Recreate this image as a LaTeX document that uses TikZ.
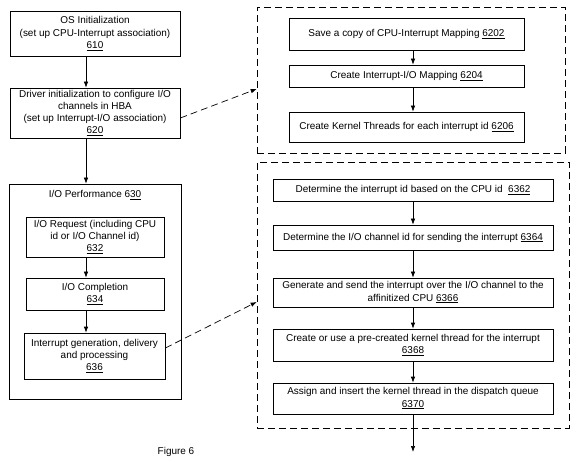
\documentclass[tikz,border=0pt]{standalone}
\usepackage{fontspec}
\setmainfont{Liberation Sans}
\usetikzlibrary{arrows.meta}
\begin{document}
\begin{tikzpicture}[x=1bp,y=-1bp,
  box/.style={draw, line width=0.7pt, align=center, inner sep=1pt, font=\fontsize{10}{12.3}\selectfont},
  dbox/.style={draw, line width=0.7pt, dash pattern=on 7bp off 4bp},
  arr/.style={-{Latex[length=6bp,width=4.5bp]}, line width=0.7pt},
  darr/.style={arr, dash pattern=on 7bp off 4bp},
  lbl/.style={font=\fontsize{10}{12.3}\selectfont}]
\useasboundingbox (0,0) rectangle (576,462);
% helper x positions
\coordinate (ax) at (86,0);
\coordinate (bx) at (413,0);
% left column
\node[box, minimum width=170bp, minimum height=45bp] (n610) at (95,33.5)
  {OS Initialization\\(set up CPU-Interrupt association)\\\underline{610}};
\node[box, minimum width=170bp, minimum height=50bp] (n620) at (95,113)
  {Driver initialization to configure I/O\\channels in HBA\\(set up Interrupt-I/O association)\\\underline{620}};
\node[box, minimum width=172bp, minimum height=215bp] (n630) at (95,291.5) {};
\node[lbl] (t630) at (95,195) {I/O Performance 6\underline{30}};
\node[box, minimum width=138bp, minimum height=40bp] (n632) at (95,237)
  {I/O Request (including CPU\\id or I/O Channel id)\\\underline{632}};
\node[box, minimum width=138bp, minimum height=32bp] (n634) at (95,294)
  {I/O Completion\\\underline{634}};
\node[box, minimum width=141bp, minimum height=46bp] (n636) at (94.5,356)
  {Interrupt generation, delivery\\and processing\\\underline{636}};
% right top group
\node[dbox, minimum width=308bp, minimum height=146bp] (g1) at (411,80) {};
\node[box, minimum width=235bp, minimum height=32bp] (n6202) at (406.5,34)
  {Save a copy of CPU-Interrupt Mapping \underline{6202}};
\node[box, minimum width=235bp, minimum height=22bp] (n6204) at (406.5,76)
  {Create Interrupt-I/O Mapping \underline{6204}};
\node[box, minimum width=235bp, minimum height=30bp] (n6206) at (406.5,127)
  {Create Kernel Threads for each interrupt id \underline{6206}};
% right bottom group
\node[dbox, minimum width=312bp, minimum height=266bp] (g2) at (413,295) {};
\node[box, minimum width=280bp, minimum height=22bp] (n6362) at (413,190)
  {Determine the interrupt id based on the CPU id\ \ \underline{6362}};
\node[box, minimum width=280bp, minimum height=25bp] (n6364) at (413,237.5)
  {Determine the I/O channel id for sending the interrupt \underline{6364}};
\node[box, minimum width=280bp, minimum height=29bp] (n6366) at (413,292.5)
  {Generate and send the interrupt over the I/O channel to the\\affinitized CPU \underline{6366}};
\node[box, minimum width=280bp, minimum height=32bp] (n6368) at (413,345)
  {Create or use a pre-created kernel thread for the interrupt\\\underline{6368}};
\node[box, minimum width=280bp, minimum height=31bp] (n6370) at (413,398.5)
  {Assign and insert the kernel thread in the dispatch queue\\\underline{6370}};
\coordinate (endpt) at (413,452);
\node[lbl] (fig) at (176,452) {Figure 6};
% connectors left
\draw[arr] (n610.south -| ax) -- (n620.north -| ax);
\draw[arr] (n620.south -| ax) -- (n630.north -| ax);
\draw[arr] (n632.south -| ax) -- (n634.north -| ax);
\draw[arr] (n634.south -| ax) -- (n636.north -| ax);
% connectors right
\draw[arr] (n6202.south -| bx) -- (n6204.north -| bx);
\draw[arr] (n6204.south -| bx) -- (n6206.north -| bx);
\draw[arr] (n6362.south -| bx) -- (n6364.north -| bx);
\draw[arr] (n6364.south -| bx) -- (n6366.north -| bx);
\draw[arr] (n6366.south -| bx) -- (n6368.north -| bx);
\draw[arr] (n6368.south -| bx) -- (n6370.north -| bx);
\draw[arr] (n6370.south) -- (endpt);
% dashed cross links
\draw[darr] ([yshift=-5bp]n620.east) -- ([yshift=-9bp]g1.west);
\draw[darr] ([yshift=8bp]n636.east) -- ([yshift=-7bp]g2.west);
\end{tikzpicture}
\end{document}
